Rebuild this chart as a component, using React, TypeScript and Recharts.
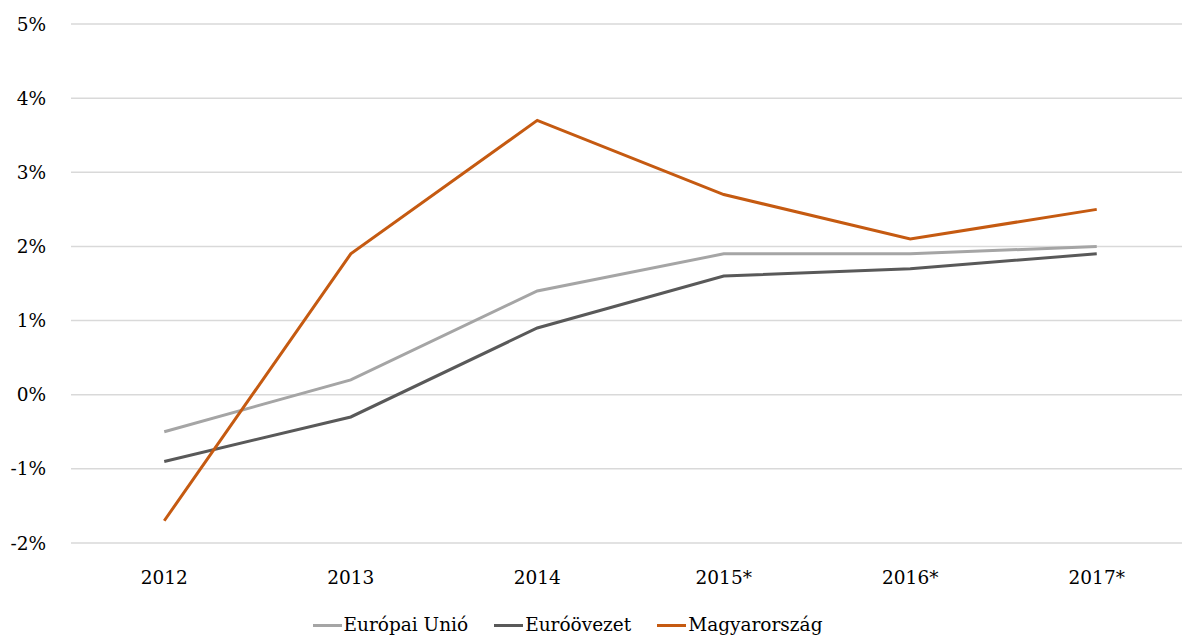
import React from 'react';
import { LineChart, Line, XAxis, YAxis, CartesianGrid } from 'recharts';

const categories = ['2012', '2013', '2014', '2015*', '2016*', '2017*'];
const euValues = [-0.5, 0.2, 1.4, 1.9, 1.9, 2.0];
const euroValues = [-0.9, -0.3, 0.9, 1.6, 1.7, 1.9];
const huValues = [-1.7, 1.9, 3.7, 2.7, 2.1, 2.5];
const yTicks = [-2, -1, 0, 1, 2, 3, 4, 5];
const bandEdges = [0, 1, 2, 3, 4, 5, 6];

const seriesKeys = ['eu', 'euro', 'hu'];
const seriesNames = ['Európai Unió', 'Euróövezet', 'Magyarország'];
const seriesColors = ['#A5A5A5', '#595959', '#C55A11'];

const data = categories.map((c, i) => ({
  year: c,
  eu: euValues[i],
  euro: euroValues[i],
  hu: huValues[i],
}));

const FONT = "'DejaVu Serif', serif";
const FS = 18.5;
const CHART_W = 1190;
const PLOT_LEFT = 71;
const HALF_BAND = (CHART_W - PLOT_LEFT) / categories.length / 2;

export default function App() {
  return (
    <div style={{ position: 'fixed', left: 0, top: 0, width: 1182, height: 639, overflow: 'hidden', background: '#fff', fontFamily: FONT }}>
      <LineChart width={CHART_W} height={639} data={data} margin={{ top: 24, right: 0, bottom: 36, left: 0 }} style={{ fontFamily: FONT }}>
        <CartesianGrid vertical={false} stroke="#D9D9D9" strokeWidth={1.5} xAxisId="edges" />
        <XAxis
          xAxisId="edges"
          type="number"
          domain={[0, 6]}
          ticks={bandEdges}
          height={0}
          stroke="#D9D9D9"
          strokeWidth={1.5}
          tickSize={8}
          tick={false}
        />
        <XAxis
          xAxisId="main"
          dataKey="year"
          height={60}
          axisLine={false}
          tickLine={false}
          tickSize={8}
          tickMargin={20}
          padding={{ left: HALF_BAND, right: HALF_BAND }}
          tick={{ fill: '#000', fontFamily: FONT, fontSize: FS }}
          interval={0}
        />
        <YAxis
          width={PLOT_LEFT}
          domain={[-2, 5]}
          ticks={yTicks}
          axisLine={false}
          tickLine={false}
          tickSize={0}
          tickMargin={25}
          tickFormatter={(v: number) => `${v}%`}
          tick={{ fill: '#000', fontFamily: FONT, fontSize: FS }}
        />
        {seriesKeys.map((k, i) => (
          <Line
            key={k}
            xAxisId="main"
            dataKey={k}
            name={seriesNames[i]}
            stroke={seriesColors[i]}
            strokeWidth={3}
            dot={false}
            isAnimationActive={false}
          />
        ))}
      </LineChart>
      <div
        style={{
          position: 'absolute',
          left: 0,
          width: 1135,
          top: 612,
          display: 'flex',
          justifyContent: 'center',
          alignItems: 'center',
          fontFamily: FONT,
          fontSize: FS,
          color: '#000',
          whiteSpace: 'nowrap',
        }}
      >
        {seriesNames.map((n, i) => (
          <div key={n} style={{ display: 'flex', alignItems: 'center', marginRight: i < 2 ? 26 : 0 }}>
            <div style={{ width: 29, height: 3, background: seriesColors[i], marginRight: 2 }} />
            <span style={{ lineHeight: '26px' }}>{n}</span>
          </div>
        ))}
      </div>
    </div>
  );
}
